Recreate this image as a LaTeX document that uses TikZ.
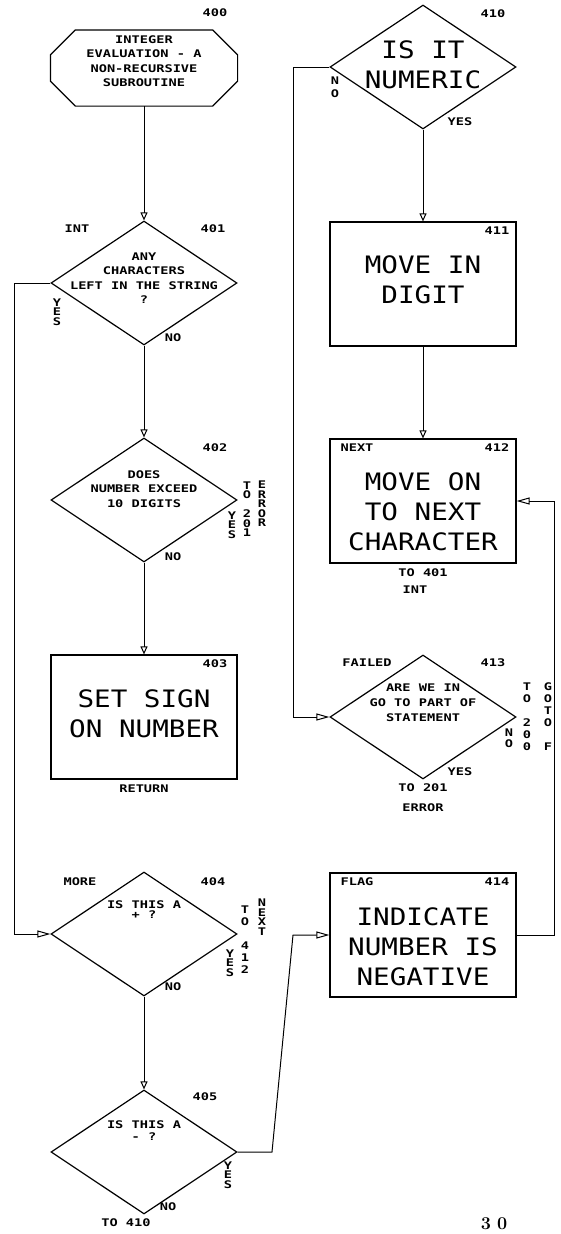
\documentclass[tikz,border=0pt]{standalone}
\usepackage{fontspec}
\usepackage{tikz}
\usetikzlibrary{arrows.meta,shapes.geometric}
\newfontfamily\plotfont[FakeStretch=1.15]{DejaVu Sans Mono}
\newfontfamily\tagfont[FakeStretch=1.3]{DejaVu Sans Mono}

\begin{document}
\begin{tikzpicture}[x=1pt, y=-1pt, line width=1.2pt,
    term/.style={rectangle, minimum width=186pt, minimum height=75pt, inner sep=0pt},
    decide/.style={diamond, draw, minimum width=186pt, minimum height=124pt, inner sep=0pt},
    proc/.style={rectangle, draw, minimum width=186pt, minimum height=124pt, inner sep=0pt},
    bigtxt/.style={font=\plotfont\fontsize{24pt}{30pt}\selectfont, align=center, inner sep=0pt},
    lbl/.style={font=\tagfont\bfseries\fontsize{10.5pt}{#1}\selectfont, align=center, inner sep=0pt},
    lbl/.default=14.5pt,
    vlbl/.style={font=\tagfont\bfseries\fontsize{10.5pt}{#1}\selectfont, align=center, inner sep=0pt},
    vlbl/.default=9.5pt,
    flow/.style={line width=1pt, -{Triangle[open,length=8pt,width=7pt]}},
    feed/.style={line width=1pt, -{Triangle[open,length=13pt,width=7pt]}}
  ]
  \useasboundingbox (0,0) rectangle (560,1234);

  % left column
  \node[term] (n400) at (144,68) {};
  \draw ([xshift=25pt]n400.north west) -- ([xshift=-25pt]n400.north east)
    -- ([yshift=-25pt]n400.north east) -- ([yshift=25pt]n400.south east)
    -- ([xshift=-25pt]n400.south east) -- ([xshift=25pt]n400.south west)
    -- ([yshift=25pt]n400.south west) -- ([yshift=-25pt]n400.north west) -- cycle;
  \node[lbl] (t400) at (144,61) {INTEGER\\EVALUATION - A\\NON-RECURSIVE\\SUBROUTINE};
  \node[lbl] (k400) at (215,13) {400};

  \node[decide] (d401) at (144,283) {};
  \node[lbl] (t401) at (144,278) {ANY\\CHARACTERS\\LEFT IN THE STRING\\?};
  \node[lbl] (e401) at (77,229) {INT};
  \node[lbl] (k401) at (213,229) {401};
  \node[vlbl] (y401) at (57,312) {Y\\E\\S};
  \node[lbl] (o401) at (173,338) {NO};

  \node[decide] (d402) at (144,500) {};
  \node[lbl] (t402) at (144,489) {DOES\\NUMBER EXCEED\\10 DIGITS};
  \node[lbl] (k402) at (215,448) {402};
  \node[vlbl] (y402) at (232,525) {Y\\E\\S};
  \node[vlbl] (g402) at (247,509) {T\\O\\ \\2\\0\\1};
  \node[vlbl] (r402) at (262,504) {E\\R\\R\\O\\R};
  \node[lbl] (o402) at (173,557) {NO};

  \node[proc] (b403) at (144,717) {};
  \node[bigtxt] (t403) at (144,714) {SET SIGN\\ON NUMBER};
  \node[lbl] (k403) at (215,664) {403};
  \node[lbl] (x403) at (144,789) {RETURN};

  \node[decide] (d404) at (144,934) {};
  \node[lbl=10pt] (t404) at (144,910) {IS THIS A\\+ ?};
  \node[lbl] (e404) at (80,882) {MORE};
  \node[lbl] (k404) at (213,882) {404};
  \node[vlbl] (y404) at (230,963) {Y\\E\\S};
  \node[vlbl=12pt] (g404) at (245,940) {T\\O\\ \\4\\1\\2};
  \node[vlbl] (r404) at (262,917) {N\\E\\X\\T};
  \node[lbl] (o404) at (173,987) {NO};

  \node[decide] (d405) at (144,1152) {};
  \node[lbl=12pt] (t405) at (144,1131) {IS THIS A\\- ?};
  \node[lbl] (k405) at (205,1097) {405};
  \node[vlbl] (y405) at (228,1175) {Y\\E\\S};
  \node[lbl] (o405) at (168,1207) {NO};
  \node[lbl] (x405) at (126,1223) {TO 410};

  % right column
  \node[decide] (d410) at (423,67) {};
  \node[bigtxt] (t410) at (423,65) {IS IT\\NUMERIC};
  \node[lbl] (k410) at (493,14) {410};
  \node[vlbl=13pt] (o410) at (335,87) {N\\O};
  \node[lbl] (y410) at (460,122) {YES};

  \node[proc] (b411) at (423,284) {};
  \node[bigtxt] (t411) at (423,280) {MOVE IN\\DIGIT};
  \node[lbl] (k411) at (497,231) {411};

  \node[proc] (b412) at (423,501) {};
  \node[bigtxt] (t412) at (423,512) {MOVE ON\\TO NEXT\\CHARACTER};
  \node[lbl] (e412) at (357,448) {NEXT};
  \node[lbl] (k412) at (497,448) {412};
  \node[lbl] (x412) at (423,573) {TO 401};
  \node[lbl] (i412) at (415,590) {INT};

  \node[decide] (d413) at (423,717) {};
  \node[lbl=15pt] (t413) at (423,703) {ARE WE IN\\GO TO PART OF\\STATEMENT};
  \node[lbl] (e413) at (367,663) {FAILED};
  \node[lbl] (k413) at (493,663) {413};
  \node[vlbl=11pt] (o413) at (509,738) {N\\O};
  \node[vlbl=12pt] (g413) at (527,717) {T\\O\\ \\2\\0\\0};
  \node[vlbl=12pt] (r413) at (548,717) {G\\O\\T\\O\\ \\F};
  \node[lbl] (y413) at (460,772) {YES};
  \node[lbl] (x413) at (423,788) {TO 201};
  \node[lbl] (z413) at (423,808) {ERROR};

  \node[proc] (b414) at (423,935) {};
  \node[bigtxt] (t414) at (423,947) {INDICATE\\NUMBER IS\\NEGATIVE};
  \node[lbl] (e414) at (357,882) {FLAG};
  \node[lbl] (k414) at (497,882) {414};

  \node[font=\rmfamily\bfseries\fontsize{18pt}{18pt}\selectfont] (page) at (494,1224) {3\,\,0};

  % bends
  \coordinate (lx) at (14,283);
  \coordinate (rx) at (293,67);
  \coordinate (fx) at (554,935);
  \coordinate (sa) at (272,1152);
  \coordinate (sb) at (293,935);

  % connectors
  \draw[flow] (n400.south) -- (d401.north);
  \draw[flow] (d401.south) -- (d402.north);
  \draw[flow] (d402.south) -- (b403.north);
  \draw[flow] (d404.south) -- (d405.north);
  \draw[flow] (d410.south) -- (b411.north);
  \draw[flow] (b411.south) -- (b412.north);
  \draw[feed] (d401.west) -- (lx) |- (d404.west);
  \draw[feed] (d410.west) -- (rx) |- (d413.west);
  \draw[feed] (b414.east) -- (fx) |- (b412.east);
  \draw[feed] (d405.east) -- (sa) -- (sb) -- (b414.west);
\end{tikzpicture}
\end{document}
